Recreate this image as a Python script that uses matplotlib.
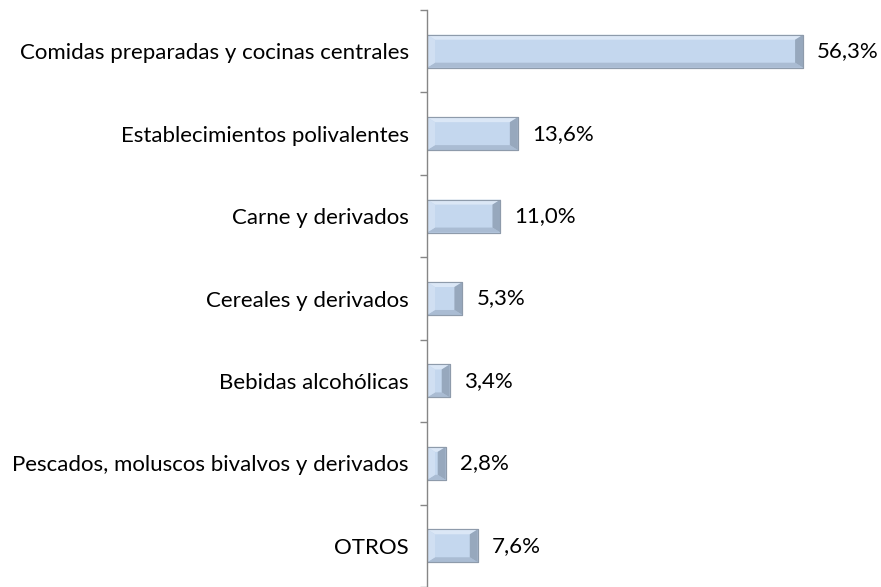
import numpy as np
import matplotlib.pyplot as plt
from matplotlib.patches import Polygon

categories = ['Comidas preparadas y cocinas centrales',
              'Establecimientos polivalentes',
              'Carne y derivados',
              'Cereales y derivados',
              'Bebidas alcohólicas',
              'Pescados, moluscos bivalvos y derivados',
              'OTROS']
values = [56.3, 13.6, 11.0, 5.3, 3.4, 2.8, 7.6]
value_labels = ['56,3%', '13,6%', '11,0%', '5,3%', '3,4%', '2,8%', '7,6%']

plt.rcParams['font.family'] = ['Lato', 'DejaVu Sans']

W, H = 881, 587
fig = plt.figure(figsize=(W / 100, H / 100), dpi=100)
ax_left, ax_top = 427, 10
ax = fig.add_axes([ax_left / W, 0, 1 - ax_left / W, (H - ax_top) / H])

xmax = (W - ax_left) / 6.68
ax.set_xlim(0, xmax)
ax.set_ylim(len(categories) - 0.5, -0.5)

# pixel -> data sizes for the bevel
px_x = xmax / (W - ax_left)
px_y = len(categories) / (H - ax_top)
bx, by = 8 * px_x, 5 * px_y
h = 0.4

y = np.arange(len(categories))
ax.barh(y, values, height=h, color='#c4d7ee', edgecolor='#8e9bab',
        linewidth=0.8, zorder=2)

for yi, v in zip(y, values):
    x0, x1 = 0, v
    yt, yb = yi - h / 2, yi + h / 2
    bxx = min(bx, v / 2)
    top = [(x0, yt), (x1, yt), (x1 - bxx, yt + by), (x0 + bxx, yt + by)]
    bot = [(x0, yb), (x1, yb), (x1 - bxx, yb - by), (x0 + bxx, yb - by)]
    left = [(x0, yt), (x0 + bxx, yt + by), (x0 + bxx, yb - by), (x0, yb)]
    right = [(x1, yt), (x1 - bxx, yt + by), (x1 - bxx, yb - by), (x1, yb)]
    ax.add_patch(Polygon(top, closed=True, fc='#dbe7f6', ec='none', zorder=3))
    ax.add_patch(Polygon(bot, closed=True, fc='#aabcd3', ec='none', zorder=3))
    ax.add_patch(Polygon(left, closed=True, fc='#d0dff2', ec='none', zorder=3))
    ax.add_patch(Polygon(right, closed=True, fc='#97a8bd', ec='none', zorder=3))
    ax.add_patch(Polygon([(x0, yt), (x1, yt), (x1, yb), (x0, yb)], closed=True,
                         fc='none', ec='#8e9bab', lw=0.8, zorder=4))

for yi, v, lab in zip(y, values, value_labels):
    ax.annotate(lab, (v, yi), xytext=(14, 0), textcoords='offset pixels',
                va='center', ha='left', fontsize=16, color='#000000')

for s in ['top', 'right', 'bottom']:
    ax.spines[s].set_visible(False)
ax.spines['left'].set_color('#868686')
ax.spines['left'].set_linewidth(1.0)
ax.spines['left'].set_zorder(5)

ax.set_xticks([])
ax.set_yticks(y)
ax.set_yticklabels(categories, fontsize=16)
ax.tick_params(axis='y', which='major', length=0, pad=13)
ax.set_yticks(np.arange(-0.5, len(categories) + 0.5, 1), minor=True)
ax.tick_params(axis='y', which='minor', length=5, color='#868686', width=1.0)

fig.savefig('out.png', dpi=100)
